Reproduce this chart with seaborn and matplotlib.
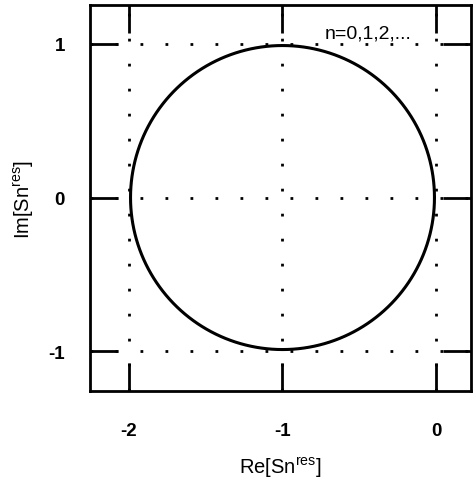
import numpy as np
import pandas as pd
import matplotlib
matplotlib.use("Agg")
import matplotlib.pyplot as plt
import seaborn as sns

# Data: circle in complex plane, centre (-1, 0), radius 1
center_re = -1.0
center_im = 0.0
radius = 0.99
x_ticks = [-2, -1, 0]
y_ticks = [-1, 0, 1]
x_tick_labels = ["-2", "-1", "0"]
y_tick_labels = ["-1", "0", "1"]
annotation = "n=0,1,2,..."

theta = np.linspace(0, 2 * np.pi, 721)
df = pd.DataFrame({
    "re": center_re + radius * np.cos(theta),
    "im": center_im + radius * np.sin(theta),
    "order": np.arange(theta.size),
})

sns.set_theme(style="white")
plt.rcParams["font.family"] = ["Liberation Sans", "DejaVu Sans"]
plt.rcParams["mathtext.fontset"] = "custom"
plt.rcParams["mathtext.rm"] = "Liberation Sans"
plt.rcParams["mathtext.it"] = "Liberation Sans"
plt.rcParams["mathtext.bf"] = "Liberation Sans:bold"
plt.rcParams["text.color"] = "black"
plt.rcParams["axes.labelcolor"] = "black"
plt.rcParams["xtick.color"] = "black"
plt.rcParams["ytick.color"] = "black"

fig = plt.figure(figsize=(4.74, 4.85), dpi=100)
ax = fig.add_axes([90 / 474, 1 - 392 / 485, (471 - 90) / 474, (392 - 6) / 485])

sns.lineplot(data=df, x="re", y="im", sort=False, estimator=None,
             color="black", lw=2.2, ax=ax)

for v in x_ticks:
    ax.axvline(v, color="black", ls=(0, (1, 8)), lw=2.0, zorder=0)
for v in y_ticks:
    ax.axhline(v, color="black", ls=(0, (1, 8)), lw=2.0, zorder=0)

ax.set_xlim(-2.254, 0.228)
ax.set_ylim(-1.26, 1.254)
ax.set_xticks(x_ticks)
ax.set_xticklabels(x_tick_labels, fontweight="bold", fontsize=13.5)
ax.set_yticks(y_ticks)
ax.set_yticklabels(y_tick_labels, fontweight="bold", fontsize=13.5)
ax.tick_params(direction="in", length=20, width=2, color="black",
               labelcolor="black",
               top=True, right=True, bottom=True, left=True)
ax.tick_params(axis="x", pad=22)
ax.tick_params(axis="y", pad=18)
for s in ax.spines.values():
    s.set_color("black")
    s.set_linewidth(2)

ax.set_xlabel(r"Re[Sn$^{\mathrm{res}}$]", fontsize=14.5, labelpad=12, color="black")
ax.set_ylabel(r"Im[Sn$^{\mathrm{res}}$]", fontsize=14.5, labelpad=9, color="black")
ax.text(-0.44, 1.07, annotation, fontsize=14, ha="center", va="center", color="black")

fig.savefig("out.png", dpi=100)
